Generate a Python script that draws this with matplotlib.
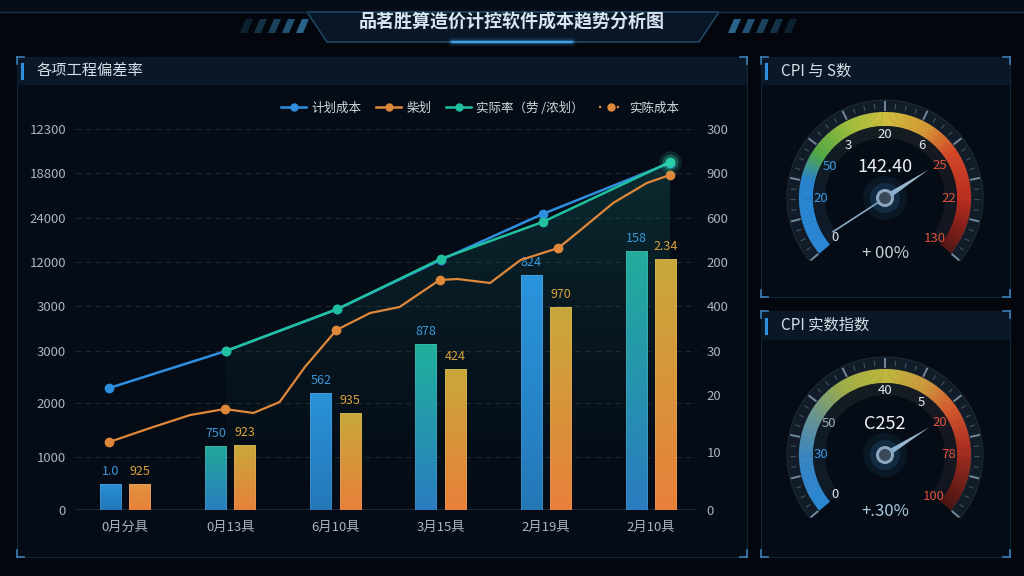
import numpy as np
import matplotlib
matplotlib.use("Agg")
import matplotlib.pyplot as plt
from matplotlib.patches import Rectangle, Polygon, Wedge, Circle
from matplotlib.lines import Line2D
from matplotlib.colors import LinearSegmentedColormap

plt.rcParams["font.family"] = ["Noto Sans CJK SC", "DejaVu Sans"]
plt.rcParams["axes.unicode_minus"] = False

W, H = 1024, 576

# ---------------- data ----------------
TITLE = "品茗胜算造价计控软件成本趋势分析图"
PANEL_MAIN = "各项工程偏差率"
PANEL_G1 = "CPI 与 S数"
PANEL_G2 = "CPI 实数指数"

categories = ["0月分具", "0月13具", "6月10具", "3月15具", "2月19具", "2月10具"]
plan_bar = [520, 1280, 2340, 3320, 4700, 5180]
actual_bar = [520, 1300, 1940, 2820, 4060, 5020]
plan_bar_labels = ["1.0", "750", "562", "878", "824", "158"]
actual_bar_labels = ["925", "923", "935", "424", "970", "2.34"]

plan_x = [-0.15, 0.96, 2.02, 3.0, 3.97, 5.18]
plan_line = [2440, 3180, 4020, 5000, 5920, 6940]
rate_x = [0.96, 2.02, 3.0, 3.97, 5.18]
rate_line = [3180, 4020, 5020, 5760, 6960]
cost_x = [-0.15, 0.24, 0.62, 0.95, 1.22, 1.47, 1.71, 2.01, 2.33, 2.61,
          2.99, 3.16, 3.47, 3.76, 4.12, 4.33, 4.64, 4.96, 5.18]
cost_line = [1360, 1640, 1900, 2020, 1940, 2160, 2860, 3600, 3940, 4060,
             4600, 4620, 4540, 5000, 5240, 5600, 6140, 6540, 6700]
cost_marks = [0, 3, 7, 10, 14, 18]

left_ticks = [0, 1060, 2140, 3180, 4080, 4960, 5840, 6740, 7620]
left_labels = ["0", "1000", "2000", "3000", "3000", "12000", "24000", "18800", "12300"]
right_ticks = [0, 1160, 2300, 3180, 4080, 4960, 5840, 6740, 7620]
right_labels = ["0", "10", "20", "30", "400", "200", "600", "900", "300"]

legend_labels = ["计划成本", "柴划", "实际率（劳 /浓划）", "实陈成本"]

g1_labels = ["0", "20", "50", "3", "20", "6", "25", "22", "130"]
g1_label_angles = [218, 180, 150, 125, 90, 55, 31, 0, -39]
g1_value = "142.40"
g1_sub = "+ 00%"
g2_labels = ["0", "30", "50", "40", "5", "20", "78", "100"]
g2_label_angles = [218, 180, 151, 90, 55, 31, 0, -40]
g2_value = "C252"
g2_sub = "+.30%"

# ---------------- style ----------------
BG = "#03070d"
PANEL = "#050c16"
HEAD = "#0a1726"
EDGE = "#12263a"
CORNER = "#3a80b8"
TXT = "#d6dee8"
TICK = "#aab4c0"
C_PLAN = "#2e8fe0"
C_COST = "#e0883a"
C_RATE = "#20c0a0"
plan_tops = ["#2a8fd6", "#22a89a", "#2a92d8", "#20b09c", "#2a94dc", "#22ac9c"]
plan_bots = ["#2276b8", "#2a7ec0", "#2478b8", "#2a7cc0", "#2478b8", "#2a7cc0"]
act_tops = ["#e09440", "#c8a83a", "#c8a83a", "#c8a83a", "#c8a83a", "#c8a83a"]
act_bot = "#e8803a"


def fx(px):
    return px / W


def fy(py):
    return 1 - py / H


fig = plt.figure(figsize=(10.24, 5.76), dpi=100, facecolor=BG)

# background layer in pixel coordinates
bg = fig.add_axes([0, 0, 1, 1], zorder=0)
bg.set_xlim(0, W)
bg.set_ylim(H, 0)
bg.axis("off")

# title banner
bg.add_patch(Rectangle((0, 0), W, 12, fc="#060d18", ec="none"))
bg.plot([0, 307], [12, 12], color="#15304a", lw=1)
bg.plot([719, W], [12, 12], color="#15304a", lw=1)
bg.add_patch(Polygon([(307, 12), (719, 12), (699, 42), (327, 42)],
                     closed=True, fc="#081626", ec="#24506f", lw=1))
for k, a in enumerate(np.linspace(0.25, 0.9, 5)):
    x0 = 240 + k * 14
    bg.add_patch(Polygon([(x0, 33), (x0 + 7, 33), (x0 + 13, 19), (x0 + 6, 19)],
                         fc="#2e6e98", alpha=a, ec="none"))
    x1 = 784 - k * 14
    bg.add_patch(Polygon([(x1, 33), (x1 + 7, 33), (x1 + 13, 19), (x1 + 6, 19)],
                         fc="#2e6e98", alpha=a, ec="none"))
for lw, a in [(6, 0.12), (3, 0.3), (1.2, 0.9)]:
    bg.plot([452, 572], [42, 42], color="#4ab4ff", lw=lw, alpha=a,
            solid_capstyle="round")
bg.text(512, 22, TITLE, ha="center", va="center", fontsize=13,
        fontweight="bold", color="#d8e4f0")


def panel(x0, y0, x1, y1, head_h, title):
    bg.add_patch(Rectangle((x0, y0), x1 - x0, y1 - y0, fc=PANEL, ec=EDGE, lw=0.8))
    bg.add_patch(Rectangle((x0, y0), x1 - x0, head_h, fc=HEAD, ec="none"))
    bg.plot([x0 + 5, x0 + 5], [y0 + head_h / 2 - 7, y0 + head_h / 2 + 7],
            color="#2e8fe0", lw=2.2)
    bg.text(x0 + 20, y0 + head_h / 2, title, ha="left", va="center",
            fontsize=11, color=TXT)
    L = 7
    for cx, cy, dx, dy in [(x0, y0, 1, 1), (x1, y0, -1, 1),
                           (x0, y1, 1, -1), (x1, y1, -1, -1)]:
        bg.plot([cx, cx + dx * L], [cy, cy], color=CORNER, lw=1.2)
        bg.plot([cx, cx], [cy, cy + dy * L], color=CORNER, lw=1.2)


panel(17, 57, 747, 557, 28, PANEL_MAIN)
panel(761, 57, 1010, 297, 28, PANEL_G1)
panel(761, 311, 1010, 557, 29, PANEL_G2)

# ---------------- main chart ----------------
ax = fig.add_axes([fx(75), fy(510), 622 / W, 390 / H], zorder=2)
ax.patch.set_alpha(0)
XL = (-0.475, 5.437)
YL = (0, 7800)

x = np.arange(len(categories))
bw = 0.2
off = 0.14

for yv in left_ticks[1:]:
    ax.axhline(yv, color="#1c2836", lw=0.8, ls=(0, (5, 4)), zorder=0)
ax.axhline(0, color="#1c3044", lw=1.2, zorder=1)

# shaded area under rate line
verts = [(rate_x[0], 0)] + list(zip(rate_x, rate_line)) + [(rate_x[-1], 0)]
area = Polygon(verts, closed=True, fc="none", ec="none")
ax.add_patch(area)
fill_cmap = LinearSegmentedColormap.from_list(
    "fill", [(0.05, 0.18, 0.2, 0.0), (0.1, 0.4, 0.4, 0.35)])
grad = np.linspace(0, 1, 200).reshape(-1, 1)
im = ax.imshow(grad, extent=[rate_x[0], rate_x[-1], 0, max(rate_line)],
               aspect="auto", origin="lower", cmap=fill_cmap, zorder=1)
im.set_clip_path(area)


def grad_bars(xs, hs, tops, bots):
    bars = ax.bar(xs, hs, width=bw, color="none", zorder=3,
                  edgecolor=(1, 1, 1, 0.12), lw=0.6)
    for b, t, bo in zip(bars, tops, bots):
        cm = LinearSegmentedColormap.from_list("b", [bo, t])
        bi = ax.imshow(grad, extent=[b.get_x(), b.get_x() + bw, 0, b.get_height()],
                       aspect="auto", origin="lower", cmap=cm, zorder=2)
        bi.set_clip_path(b)
    return bars


pb = grad_bars(x - off, plan_bar, plan_tops, plan_bots)
ab = grad_bars(x + off, actual_bar, act_tops, [act_bot] * len(x))
for b, s in zip(pb, plan_bar_labels):
    ax.annotate(s, (b.get_x() + bw / 2, b.get_height()), xytext=(0, 4),
                textcoords="offset points", ha="center", va="bottom",
                fontsize=9, color="#3a98d8", zorder=5)
for b, s in zip(ab, actual_bar_labels):
    ax.annotate(s, (b.get_x() + bw / 2, b.get_height()), xytext=(0, 4),
                textcoords="offset points", ha="center", va="bottom",
                fontsize=9, color="#d8a23a", zorder=5)

ax.plot(plan_x, plan_line, color=C_PLAN, lw=1.8, marker="o", ms=6, zorder=6)
ax.plot(cost_x, cost_line, color=C_COST, lw=1.6, zorder=6)
ax.plot([cost_x[i] for i in cost_marks], [cost_line[i] for i in cost_marks],
        ls="none", marker="o", ms=6, color=C_COST, zorder=6)
ax.plot(rate_x, rate_line, color=C_RATE, lw=1.8, marker="o", ms=6, zorder=7)
for s, a in [(260, 0.12), (130, 0.25)]:
    ax.scatter([rate_x[-1]], [rate_line[-1]], s=s, color="#40f0c0", alpha=a,
               zorder=7, lw=0)

ax.set_xlim(*XL)
ax.set_ylim(*YL)
ax.set_xticks(x)
ax.set_xticklabels(categories)
ax.set_yticks(left_ticks)
ax.set_yticklabels(left_labels)
ax.tick_params(axis="both", length=0, colors=TICK, labelsize=9.5)
ax.tick_params(axis="x", pad=8)
ax.tick_params(axis="y", pad=6.5)
for sp in ax.spines.values():
    sp.set_visible(False)

ax2 = ax.twinx()
ax2.set_zorder(2)
ax2.patch.set_alpha(0)
ax2.set_ylim(*YL)
ax2.set_yticks(right_ticks)
ax2.set_yticklabels(right_labels)
ax2.tick_params(axis="y", length=0, colors=TICK, labelsize=9.5, pad=7)
for sp in ax2.spines.values():
    sp.set_visible(False)

handles = [
    Line2D([], [], color=C_PLAN, lw=1.8, marker="o", ms=5),
    Line2D([], [], color=C_COST, lw=1.8, marker="o", ms=5),
    Line2D([], [], color=C_RATE, lw=1.8, marker="o", ms=5),
    Line2D([], [], color=C_COST, lw=1.6, ls=(0, (1, 3)), marker="o", ms=5,
           markevery=[1]),
]
leg = fig.legend(handles, legend_labels, loc="center",
                 bbox_to_anchor=(fx(480), fy(108)), ncol=4, frameon=False,
                 fontsize=9, labelcolor="#d0d8e0", handlelength=2.0,
                 handletextpad=0.4, columnspacing=1.2)


# ---------------- gauges ----------------
def gauge(cx, cy, stops, labels, angles, label_cols, value, sub, sub_col,
          needle_ang, tail):
    S = 240
    g = fig.add_axes([fx(cx - S / 2), fy(cy + S / 2), S / W, S / H], zorder=3)
    g.set_xlim(-S / 2, S / 2)
    g.set_ylim(-S / 2, S / 2)
    g.axis("off")
    a0, a1 = -40, 220
    g.add_patch(Wedge((0, 0), 98, a0, a1, width=12, fc="#121c28", ec="#1c2a38",
                      lw=0.8))
    cmap = LinearSegmentedColormap.from_list("g", stops)
    n = 160
    edges = np.linspace(a1, a0, n + 1)
    for i in range(n):
        t = i / (n - 1)
        c = cmap(t)
        g.add_patch(Wedge((0, 0), 86, edges[i + 1], edges[i] + 0.3, width=14,
                          fc=c, ec="none", alpha=0.95))
        g.add_patch(Wedge((0, 0), 72, edges[i + 1], edges[i] + 0.3, width=12,
                          fc=c, ec="none", alpha=0.12))
    g.add_patch(Wedge((0, 0), 72, a0, a1, width=12, fc="#111a24", ec="none",
                      alpha=0.75))
    for ang in np.arange(a0, a1 + 0.1, 6.5):
        r = np.deg2rad(ang)
        major = abs((ang - a0) % 26) < 0.1
        r0, r1 = (88, 96) if major else (90, 94)
        g.plot([r0 * np.cos(r), r1 * np.cos(r)], [r0 * np.sin(r), r1 * np.sin(r)],
               color="#8aa4b8" if major else "#4a6070", lw=1.4 if major else 0.8,
               alpha=0.8)
    for s, ang, c in zip(labels, angles, label_cols):
        r = np.deg2rad(ang)
        g.text(64 * np.cos(r), 64 * np.sin(r), s, ha="center", va="center",
               fontsize=9.5, color=c)
    # needle
    r = np.deg2rad(needle_ang)
    ux, uy = np.cos(r), np.sin(r)
    px_, py_ = -uy, ux
    g.add_patch(Polygon([(px_ * 3, py_ * 3), (ux * 52, uy * 52), (-px_ * 3, -py_ * 3)],
                        fc="#9ab8cc", ec="none", zorder=4))
    if tail:
        g.plot([0, -ux * 62], [0, -uy * 62], color="#8aa8c0", lw=1.2, zorder=4)
    for rr, a in [(22, 0.08), (15, 0.15)]:
        g.add_patch(Circle((0, 0), rr, fc="#4aa0e0", alpha=a, ec="none", zorder=4))
    g.add_patch(Circle((0, 0), 9, fc="#8aa8c0", ec="none", zorder=5))
    g.add_patch(Circle((0, 0), 6, fc="#3a4858", ec="none", zorder=6))
    g.text(0, 31, value, ha="center", va="center", fontsize=13, color="#eef2f6",
           zorder=6)
    g.text(0, -56, sub, ha="center", va="center", fontsize=12, color=sub_col,
           zorder=6)


g1_stops = [(0, "#2e8fe0"), (0.2, "#2a8ad8"), (0.28, "#56b048"), (0.4, "#a8c840"),
            (0.5, "#d8c840"), (0.62, "#e0a038"), (0.72, "#e04a2a"),
            (0.86, "#c03020"), (1, "#5a1816")]
g2_stops = [(0, "#2e8fe0"), (0.14, "#3a8ccc"), (0.25, "#6a9aa0"), (0.38, "#a8b84a"),
            (0.5, "#c8c040"), (0.62, "#d8a040"), (0.71, "#e06030"),
            (0.82, "#b83422"), (1, "#501614")]
WHT, BLU, RED, GRY = "#dfe6ee", "#3a98e0", "#e0503a", "#9aa8b4"
gauge(885, 198, g1_stops, g1_labels, g1_label_angles,
      [WHT, BLU, BLU, WHT, WHT, WHT, RED, RED, RED],
      g1_value, g1_sub, "#c8d0d8", 33, True)
gauge(885, 455, g2_stops, g2_labels, g2_label_angles,
      [WHT, BLU, GRY, WHT, WHT, RED, RED, RED],
      g2_value, g2_sub, "#a8c8dc", 32, False)

fig.savefig("out.png", dpi=100, facecolor=BG)
